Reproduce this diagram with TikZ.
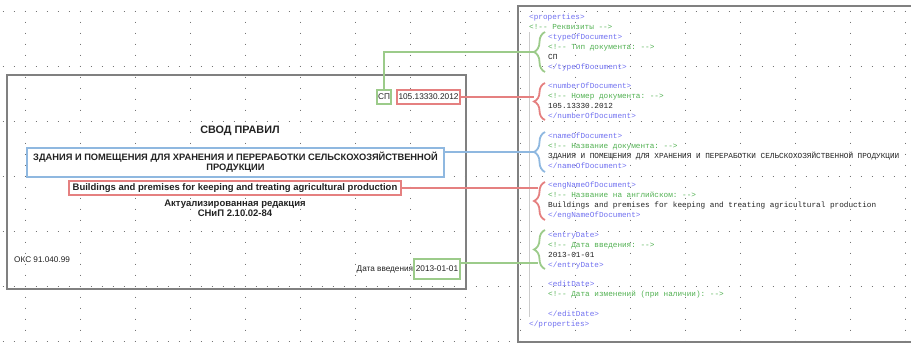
\documentclass[tikz,border=0pt]{standalone}
\usepackage{fontspec}
\setmainfont{Liberation Sans}
\setmonofont{Liberation Mono}
\usetikzlibrary{decorations.pathreplacing}
\definecolor{cgreen}{HTML}{9CCB8A}
\definecolor{cred}{HTML}{E58080}
\definecolor{cblue}{HTML}{8FB8E0}
\definecolor{tagc}{HTML}{7070F0}
\definecolor{comc}{HTML}{50B050}
\definecolor{txt}{HTML}{222222}
\newcommand\xmlline[4]{\node[xml, text=#3] (#1) at (#2) {#4};}
\begin{document}
\begin{tikzpicture}[x=1pt,y=-1pt,
  griddot/.style={line width=0.8pt, dash pattern=on 0.8pt off 10.2pt, black!55},
  pagebox/.style={draw=black!50, line width=1.3pt},
  lbl/.style={fill=white, line width=2pt, inner sep=1.5pt, font=\fontsize{8.3}{9}\selectfont, text=txt, minimum height=14pt},
  conn/.style={line width=2pt},
  brc/.style={line width=1.8pt, decorate, decoration={brace, amplitude=11pt}},
  xml/.style={anchor=base west, inner sep=0pt, font=\ttfamily\fontsize{7.7}{8}\selectfont},
  bold/.style={font=\fontsize{9.5}{10}\selectfont\bfseries, text=txt},
  plain/.style={font=\fontsize{8.2}{9}\selectfont, text=txt, inner sep=0pt}]
\useasboundingbox (0,0) rectangle (911,343);
% dotted grid
\foreach \i in {0,...,16} \draw[griddot] (25+55*\i,10.6) -- (25+55*\i,343);
\foreach \j in {0,...,6} \draw[griddot] (2.6,11+55*\j) -- (911,11+55*\j);
% pages
\draw[pagebox] (7,75) rectangle (466,289);
\draw[pagebox] (518,6) rectangle (925,342);
\draw[black!20, line width=0.6pt] (529,32) -- (529,317);
% left page text
\node[lbl, draw=cgreen] (sp) at (384,97) {СП};
\node[lbl, draw=cred] (num) at (428.5,97) {105.13330.2012};
\node[bold, font=\fontsize{10.8}{11}\selectfont\bfseries] (title) at (240,131) {СВОД ПРАВИЛ};
\node[bold, font=\fontsize{9.3}{10}\selectfont\bfseries, draw=cblue, fill=white, line width=2pt, minimum width=417pt, minimum height=29pt, align=center, inner sep=1pt] (name) at (235.5,162.5) {ЗДАНИЯ И ПОМЕЩЕНИЯ ДЛЯ ХРАНЕНИЯ И ПЕРЕРАБОТКИ СЕЛЬСКОХОЗЯЙСТВЕННОЙ\\ПРОДУКЦИИ};
\node[bold, draw=cred, fill=white, line width=2pt, minimum width=332pt, minimum height=14pt, inner sep=1pt] (eng) at (235,188) {Buildings and premises for keeping and treating agricultural production};
\node[bold, align=center] (ed) at (235,208) {Актуализированная редакция\\СНиП 2.10.02-84};
\node[plain, anchor=west] (oks) at (14,260) {ОКС 91.040.99};
\node[lbl, draw=cgreen, minimum height=20pt] (date) at (437,269) {2013-01-01};
\node[plain, anchor=east] (dv) at (date.west) {Дата введения};
% braces
\draw[brc, cgreen] (545,72) -- (545,32);
\draw[brc, cred] (545,120) -- (545,83);
\draw[brc, cblue] (545,172) -- (545,132);
\draw[brc, cred] (545,220) -- (545,182);
\draw[brc, cgreen] (545,269) -- (545,230);
\coordinate (b1) at (534,52);
\coordinate (b2) at (534,101);
\coordinate (b3) at (534,152);
\coordinate (b4) at (538,188);
\coordinate (b5) at (538,263);
% connectors
\draw[conn, cgreen] (sp.north) |- (b1);
\draw[conn, cred] (num.east) -- (num.east -| b2);
\draw[conn, cblue] (name.east |- b3) -- (b3);
\draw[conn, cred] (eng.east) -- (b4);
\draw[conn, cgreen] (date.east |- b5) -- (b5);
% xml
\xmlline{x0}{529,19.5}{tagc}{<properties>}
\xmlline{x1}{529,29.4}{comc}{<!-- Реквизиты -->}
\xmlline{x2}{548,39.3}{tagc}{<typeOfDocument>}
\xmlline{x3}{548,49.2}{comc}{<!-- Тип документа: -->}
\xmlline{x4}{548,59.1}{txt}{СП}
\xmlline{x5}{548,69.0}{tagc}{</typeOfDocument>}
\xmlline{x7}{548,88.8}{tagc}{<numberOfDocument>}
\xmlline{x8}{548,98.7}{comc}{<!-- Номер документа: -->}
\xmlline{x9}{548,108.6}{txt}{105.13330.2012}
\xmlline{x10}{548,118.5}{tagc}{</numberOfDocument>}
\xmlline{x12}{548,138.3}{tagc}{<nameOfDocument>}
\xmlline{x13}{548,148.2}{comc}{<!-- Название документа: -->}
\xmlline{x14}{548,158.1}{txt}{ЗДАНИЯ И ПОМЕЩЕНИЯ ДЛЯ ХРАНЕНИЯ И ПЕРЕРАБОТКИ СЕЛЬСКОХОЗЯЙСТВЕННОЙ ПРОДУКЦИИ}
\xmlline{x15}{548,168.0}{tagc}{</nameOfDocument>}
\xmlline{x17}{548,187.8}{tagc}{<engNameOfDocument>}
\xmlline{x18}{548,197.7}{comc}{<!-- Название на английском: -->}
\xmlline{x19}{548,207.6}{txt}{Buildings and premises for keeping and treating agricultural production}
\xmlline{x20}{548,217.5}{tagc}{</engNameOfDocument>}
\xmlline{x22}{548,237.3}{tagc}{<entryDate>}
\xmlline{x23}{548,247.2}{comc}{<!-- Дата введения: -->}
\xmlline{x24}{548,257.1}{txt}{2013-01-01}
\xmlline{x25}{548,267.0}{tagc}{</entryDate>}
\xmlline{x27}{548,286.8}{tagc}{<editDate>}
\xmlline{x28}{548,296.7}{comc}{<!-- Дата изменений (при наличии): -->}
\xmlline{x30}{548,316.5}{tagc}{</editDate>}
\xmlline{x31}{529,326.4}{tagc}{</properties>}
\end{tikzpicture}
\end{document}
